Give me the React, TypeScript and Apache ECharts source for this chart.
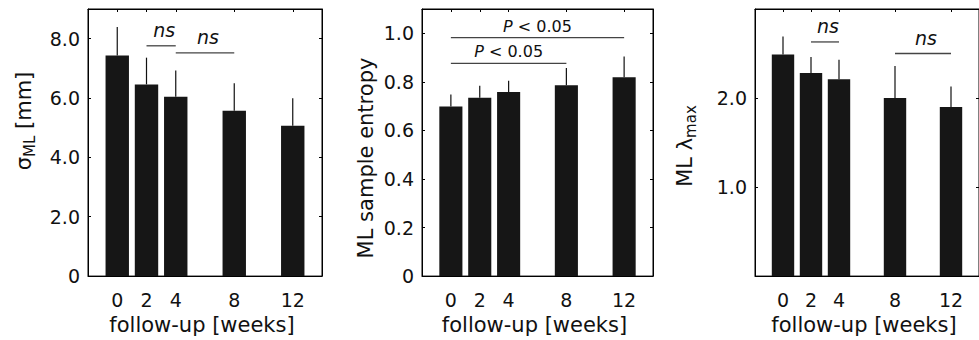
import React, { useEffect, useRef } from "react";
import * as echarts from "echarts";

const FONT = '"DejaVu Sans", sans-serif';

// x categories (weeks of follow-up)
const weeks = [0, 2, 4, 8, 12];

// Panel 1: sigma ML [mm]
const sigmaMean = [7.43, 6.46, 6.04, 5.57, 5.07];
const sigmaSd = [0.96, 0.9, 0.89, 0.93, 0.92];
const sigmaTicks = [0, 2, 4, 6, 8];
const sigmaSigFrom = [2, 4];
const sigmaSigTo = [4, 8];
const sigmaSigY = [7.76, 7.52];
const sigmaSigLabel = ["ns", "ns"];

// Panel 2: ML sample entropy
const entropyMean = [0.698, 0.735, 0.758, 0.786, 0.819];
const entropySd = [0.05, 0.049, 0.047, 0.071, 0.085];
const entropyTicks = [0, 0.2, 0.4, 0.6, 0.8, 1.0];
const entropySigFrom = [0, 0];
const entropySigTo = [12, 8];
const entropySigY = [0.982, 0.876];
const entropySigLabel = ["P < 0.05", "P < 0.05"];

// Panel 3: ML lambda max
const lambdaMean = [2.49, 2.28, 2.21, 2.0, 1.9];
const lambdaSd = [0.2, 0.18, 0.22, 0.36, 0.23];
const lambdaTicks = [1, 2];
const lambdaSigFrom = [2, 8];
const lambdaSigTo = [4, 12];
const lambdaSigY = [2.63, 2.5];
const lambdaSigLabel = ["ns", "ns"];

const fmt = (v: number) => (v === 0 ? "0" : v.toFixed(1));

function makeX(gridIndex: number) {
  const common = {
    type: "value",
    gridIndex,
    min: -2,
    max: 14,
    splitLine: { show: false },
    axisLine: { show: true, onZero: false, lineStyle: { color: "#000", width: 1 } },
    axisTick: { show: true, inside: true, length: 3, customValues: weeks, lineStyle: { color: "#000" } },
  };
  return [
    {
      ...common,
      position: "bottom",
      axisLabel: { customValues: weeks, margin: 14, fontSize: 19, fontFamily: FONT, color: "#111" },
      name: "follow-up [weeks]",
      nameLocation: "middle",
      nameGap: 31,
      nameTextStyle: { fontSize: 21, fontFamily: FONT, color: "#111", padding: [0, 6, 0, 0] },
    },
    { ...common, position: "top", axisLabel: { show: false } },
  ];
}

function makeY(gridIndex: number, max: number, ticks: number[]) {
  const common = {
    type: "value",
    gridIndex,
    min: 0,
    max,
    splitLine: { show: false },
    axisLine: { show: true, onZero: false, lineStyle: { color: "#000", width: 1 } },
    axisTick: { show: true, inside: true, length: 3, customValues: ticks, lineStyle: { color: "#000" } },
  };
  return [
    {
      ...common,
      position: "left",
      axisLabel: { customValues: ticks, formatter: fmt, margin: 8, fontSize: 19, fontFamily: FONT, color: "#111" },
    },
    { ...common, position: "right", axisLabel: { show: false } },
  ];
}

function barSeries(idx: number, mean: number[]) {
  return {
    type: "custom",
    xAxisIndex: idx * 2,
    yAxisIndex: idx * 2,
    encode: { x: 0, y: 1 },
    data: weeks.map((w, i) => [w, mean[i]]),
    renderItem: (params: any, api: any) => {
      const x = api.value(0);
      const top = api.coord([x, api.value(1)]);
      const base = api.coord([x, 0]);
      const w = api.size([1.6, 0])[0];
      return {
        type: "rect",
        shape: { x: top[0] - w / 2, y: top[1], width: w, height: base[1] - top[1] },
        style: { fill: "#161616" },
      };
    },
  };
}

function errSeries(idx: number, mean: number[], sd: number[]) {
  return {
    type: "custom",
    xAxisIndex: idx * 2,
    yAxisIndex: idx * 2,
    encode: { x: 0, y: 1 },
    data: weeks.map((w, i) => [w, mean[i], sd[i]]),
    renderItem: (params: any, api: any) => {
      const x = api.value(0);
      const m = api.value(1);
      const p1 = api.coord([x, m]);
      const p2 = api.coord([x, m + api.value(2)]);
      return {
        type: "line",
        shape: { x1: p1[0], y1: p1[1], x2: p2[0], y2: p2[1] },
        style: { stroke: "#111", lineWidth: 1.2 },
      };
    },
  };
}

function sigSeries(idx: number, from: number[], to: number[], ys: number[], labels: string[]) {
  return {
    type: "custom",
    xAxisIndex: idx * 2,
    yAxisIndex: idx * 2,
    encode: { x: [0, 1], y: 2 },
    data: from.map((f, i) => [f, to[i], ys[i]]),
    renderItem: (params: any, api: any) => {
      const yv = api.value(2);
      const p1 = api.coord([api.value(0), yv]);
      const p2 = api.coord([api.value(1), yv]);
      const label = labels[params.dataIndex];
      const isNs = label === "ns";
      const text = isNs ? label : "{i|P}{n|" + label.slice(1) + "}";
      return {
        type: "group",
        children: [
          {
            type: "line",
            shape: { x1: p1[0], y1: p1[1], x2: p2[0], y2: p2[1] },
            style: { stroke: "#444", lineWidth: 1.3 },
          },
          {
            type: "text",
            x: (p1[0] + p2[0]) / 2 + (isNs ? 3 : 0),
            y: p1[1] - (isNs ? 16 : 11.5),
            style: isNs
              ? {
                  text,
                  fontSize: 19,
                  fontStyle: "italic",
                  fontFamily: FONT,
                  fill: "#111",
                  align: "center",
                  verticalAlign: "middle",
                }
              : {
                  text,
                  fill: "#111",
                  align: "center",
                  verticalAlign: "middle",
                  rich: {
                    i: { fontSize: 16, fontStyle: "italic", fontFamily: FONT, fill: "#111" },
                    n: { fontSize: 16, fontFamily: FONT, fill: "#111" },
                  },
                },
          },
        ],
      };
    },
  };
}

const richName = {
  a: { fontSize: 21, fontFamily: FONT, fill: "#111", lineHeight: 26, verticalAlign: "middle" },
  b: { fontSize: 15, fontFamily: FONT, fill: "#111", lineHeight: 15, verticalAlign: "bottom" },
};

export default function App() {
  const ref = useRef<HTMLDivElement>(null);
  useEffect(() => {
    if (!ref.current) return;
    const chart = echarts.init(ref.current, undefined, { renderer: "svg" });
    const option: any = {
      animation: false,
      backgroundColor: "#fff",
      grid: [
        { left: 88, top: 9, width: 234, height: 270, show: true, borderColor: "#000", borderWidth: 1 },
        { left: 422, top: 9, width: 231, height: 270, show: true, borderColor: "#000", borderWidth: 1 },
        { left: 755, top: 9, width: 232, height: 270, show: true, borderColor: "#000", borderWidth: 1 },
      ],
      xAxis: [...makeX(0), ...makeX(1), ...makeX(2)],
      yAxis: [...makeY(0, 9, sigmaTicks), ...makeY(1, 1.1, entropyTicks), ...makeY(2, 3, lambdaTicks)],
      series: [
        barSeries(0, sigmaMean),
        errSeries(0, sigmaMean, sigmaSd),
        sigSeries(0, sigmaSigFrom, sigmaSigTo, sigmaSigY, sigmaSigLabel),
        barSeries(1, entropyMean),
        errSeries(1, entropyMean, entropySd),
        sigSeries(1, entropySigFrom, entropySigTo, entropySigY, entropySigLabel),
        barSeries(2, lambdaMean),
        errSeries(2, lambdaMean, lambdaSd),
        sigSeries(2, lambdaSigFrom, lambdaSigTo, lambdaSigY, lambdaSigLabel),
      ],
      graphic: [
        {
          type: "text",
          x: 24,
          y: 121,
          rotation: Math.PI / 2,
          style: { text: "{a|σ}{b|ML}{a| [mm]}", rich: richName, align: "center", verticalAlign: "middle" },
        },
        {
          type: "text",
          x: 366,
          y: 158,
          rotation: Math.PI / 2,
          style: { text: "{a|ML sample entropy}", rich: richName, align: "center", verticalAlign: "middle" },
        },
        {
          type: "text",
          x: 685,
          y: 146,
          rotation: Math.PI / 2,
          style: { text: "{a|ML λ}{b|max}", rich: richName, align: "center", verticalAlign: "middle" },
        },
      ],
    };
    chart.setOption(option);
    return () => chart.dispose();
  }, []);
  return (
    <div
      ref={ref}
      style={{ position: "fixed", left: 0, top: 0, width: 979, height: 340, background: "#fff" }}
    />
  );
}
